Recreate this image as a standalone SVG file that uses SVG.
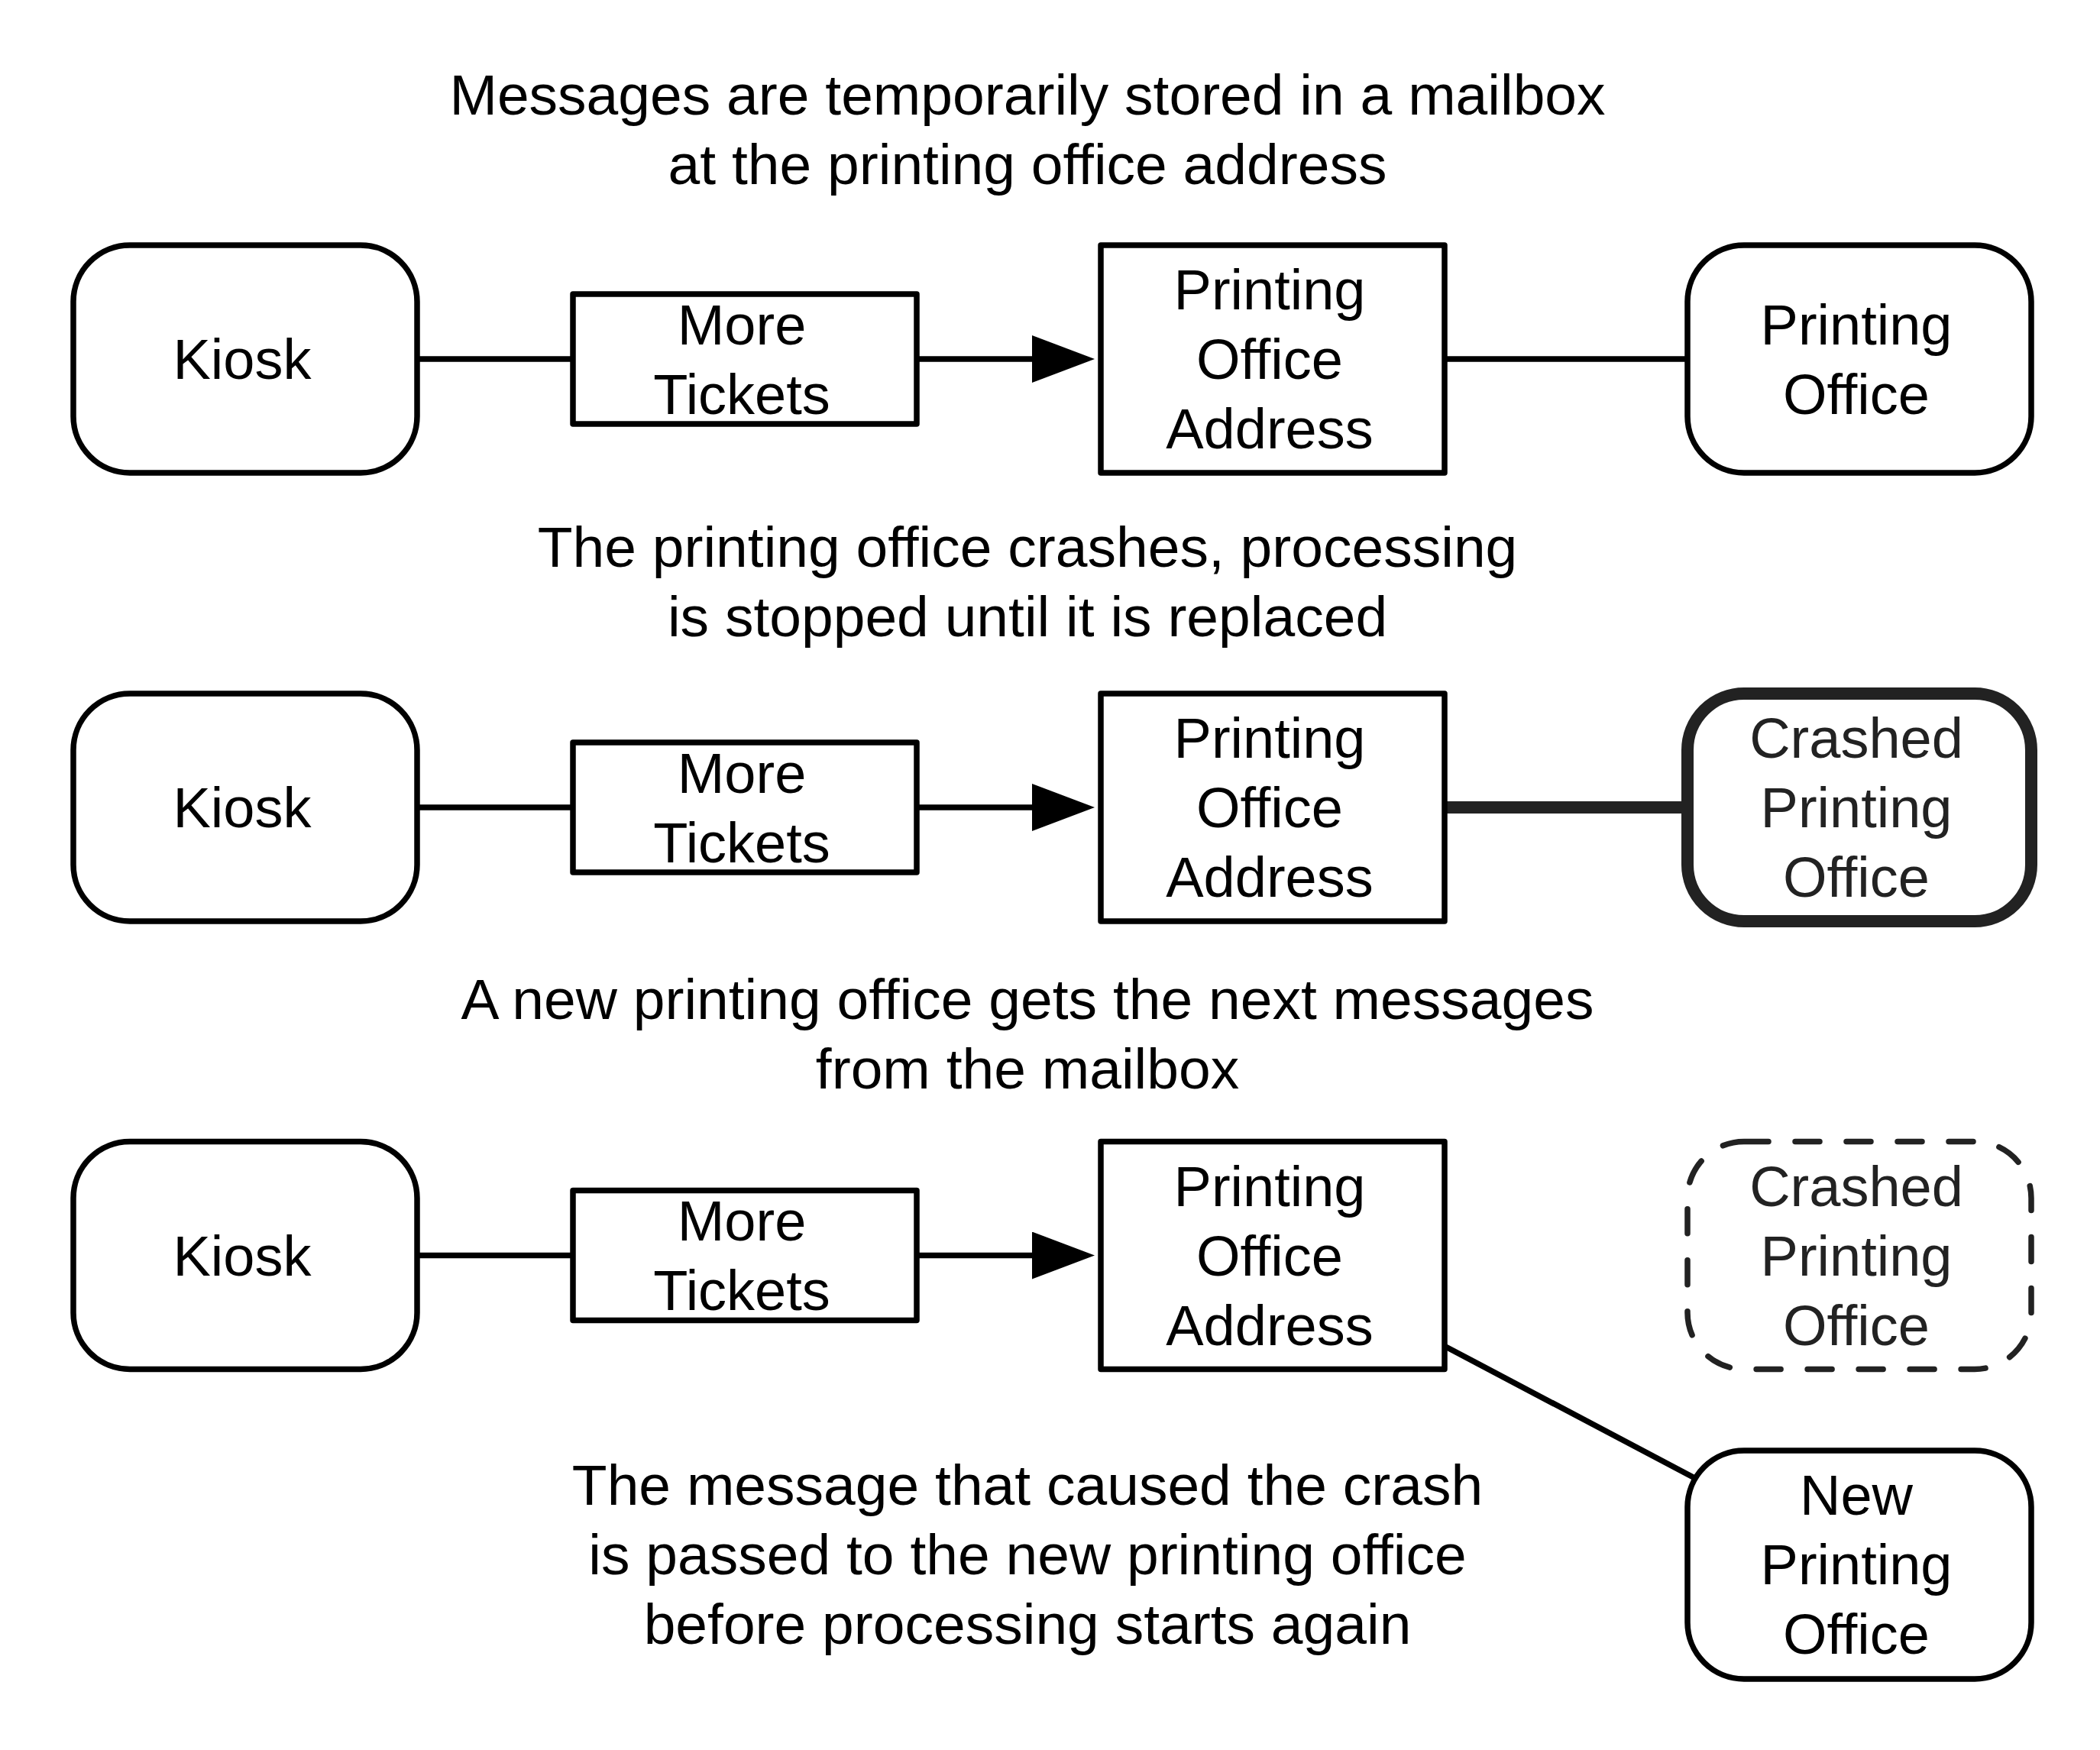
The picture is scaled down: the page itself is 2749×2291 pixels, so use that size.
<svg xmlns="http://www.w3.org/2000/svg" width="2749" height="2291" viewBox="0 0 2749 2291">
  <style>
    .bg { fill: #ffffff; }
    .box { fill: #ffffff; stroke: #000000; stroke-width: 7.5; stroke-linejoin: round; }
    .crashed { fill: #ffffff; stroke: #222222; stroke-width: 16; }
    .dashed { fill: #ffffff; stroke: #222222; stroke-width: 7.5; stroke-dasharray: 32 35; stroke-linecap: round; }
    .edge { fill: none; stroke: #000000; stroke-width: 7.5; }
    .thick { fill: none; stroke: #222222; stroke-width: 16; stroke-linecap: round; }
    .lbl { font-family: "Liberation Sans", Arial, Helvetica, sans-serif; font-size: 74px; text-anchor: middle; fill: #000000; }
    .lbl-c { font-family: "Liberation Sans", Arial, Helvetica, sans-serif; font-size: 74px; text-anchor: middle; fill: #222222; }
    .cap { font-family: "Liberation Sans", Arial, Helvetica, sans-serif; font-size: 75px; text-anchor: middle; fill: #000000; }
  </style>
  <defs>
    <marker id="arrow" viewBox="0 0 82 62" refX="0" refY="31" markerWidth="82" markerHeight="62" markerUnits="userSpaceOnUse" orient="auto">
      <path d="M0,0 L82,31 L0,62 Z" fill="#000000"/>
    </marker>
  </defs>
  <rect class="bg" x="0" y="0" width="2749" height="2291"/>

  <!-- captions -->
  <g id="captions">
    <text class="cap" x="1345" y="150">Messages are temporarily stored in a mailbox</text>
    <text class="cap" x="1345" y="241">at the printing office address</text>
    <text class="cap" x="1345" y="742">The printing office crashes, processing</text>
    <text class="cap" x="1345" y="833">is stopped until it is replaced</text>
    <text class="cap" x="1345" y="1334">A new printing office gets the next messages</text>
    <text class="cap" x="1345" y="1425">from the mailbox</text>
    <text class="cap" x="1345" y="1970">The message that caused the crash</text>
    <text class="cap" x="1345" y="2061">is passed to the new printing office</text>
    <text class="cap" x="1345" y="2152">before processing starts again</text>
  </g>

  <!-- connectors -->
  <g id="connectors">
    <line class="edge" x1="546" y1="470" x2="750" y2="470"/>
    <line class="edge" x1="1200" y1="470" x2="1351" y2="470" marker-end="url(#arrow)"/>
    <line class="edge" x1="1891" y1="470" x2="2209" y2="470"/>

    <line class="edge" x1="546" y1="1057" x2="750" y2="1057"/>
    <line class="edge" x1="1200" y1="1057" x2="1351" y2="1057" marker-end="url(#arrow)"/>
    <line class="thick" x1="1891" y1="1057" x2="2209" y2="1057"/>

    <line class="edge" x1="546" y1="1643.5" x2="750" y2="1643.5"/>
    <line class="edge" x1="1200" y1="1643.5" x2="1351" y2="1643.5" marker-end="url(#arrow)"/>
    <line class="edge" x1="1891" y1="1762.2" x2="2219" y2="1935.3"/>
  </g>

  <!-- row 1 -->
  <g id="kiosk1">
    <rect class="box" x="96" y="321" width="450" height="298" rx="74" ry="74"/>
    <text class="lbl" x="317" y="496">Kiosk</text>
  </g>
  <g id="tickets1">
    <rect class="box" x="750" y="385" width="450" height="170"/>
    <text class="lbl" x="971" y="450.5">More</text>
    <text class="lbl" x="971" y="541.5">Tickets</text>
  </g>
  <g id="address1">
    <rect class="box" x="1441" y="321" width="450" height="298"/>
    <text class="lbl" x="1662" y="405">Printing</text>
    <text class="lbl" x="1662" y="496">Office</text>
    <text class="lbl" x="1662" y="587">Address</text>
  </g>
  <g id="office1">
    <rect class="box" x="2209" y="321" width="450" height="298" rx="74" ry="74"/>
    <text class="lbl" x="2430" y="450.5">Printing</text>
    <text class="lbl" x="2430" y="541.5">Office</text>
  </g>

  <!-- row 2 -->
  <g id="kiosk2">
    <rect class="box" x="96" y="908" width="450" height="298" rx="74" ry="74"/>
    <text class="lbl" x="317" y="1083">Kiosk</text>
  </g>
  <g id="tickets2">
    <rect class="box" x="750" y="972" width="450" height="170"/>
    <text class="lbl" x="971" y="1037.5">More</text>
    <text class="lbl" x="971" y="1128.5">Tickets</text>
  </g>
  <g id="address2">
    <rect class="box" x="1441" y="908" width="450" height="298"/>
    <text class="lbl" x="1662" y="992">Printing</text>
    <text class="lbl" x="1662" y="1083">Office</text>
    <text class="lbl" x="1662" y="1174">Address</text>
  </g>
  <g id="crashed2">
    <rect class="crashed" x="2209" y="908" width="450" height="298" rx="74" ry="74"/>
    <text class="lbl-c" x="2430" y="992">Crashed</text>
    <text class="lbl-c" x="2430" y="1083">Printing</text>
    <text class="lbl-c" x="2430" y="1174">Office</text>
  </g>

  <!-- row 3 -->
  <g id="kiosk3">
    <rect class="box" x="96" y="1494.5" width="450" height="298" rx="74" ry="74"/>
    <text class="lbl" x="317" y="1669.5">Kiosk</text>
  </g>
  <g id="tickets3">
    <rect class="box" x="750" y="1558.5" width="450" height="170"/>
    <text class="lbl" x="971" y="1624">More</text>
    <text class="lbl" x="971" y="1715">Tickets</text>
  </g>
  <g id="address3">
    <rect class="box" x="1441" y="1494.5" width="450" height="298"/>
    <text class="lbl" x="1662" y="1578.5">Printing</text>
    <text class="lbl" x="1662" y="1669.5">Office</text>
    <text class="lbl" x="1662" y="1760.5">Address</text>
  </g>
  <g id="crashed3">
    <rect class="dashed" x="2209" y="1494.5" width="450" height="298" rx="74" ry="74"/>
    <text class="lbl-c" x="2430" y="1578.5">Crashed</text>
    <text class="lbl-c" x="2430" y="1669.5">Printing</text>
    <text class="lbl-c" x="2430" y="1760.5">Office</text>
  </g>
  <g id="newoffice">
    <rect class="box" x="2209" y="1899" width="450" height="299" rx="74" ry="74"/>
    <text class="lbl" x="2430" y="1983">New</text>
    <text class="lbl" x="2430" y="2074">Printing</text>
    <text class="lbl" x="2430" y="2165">Office</text>
  </g>
</svg>
